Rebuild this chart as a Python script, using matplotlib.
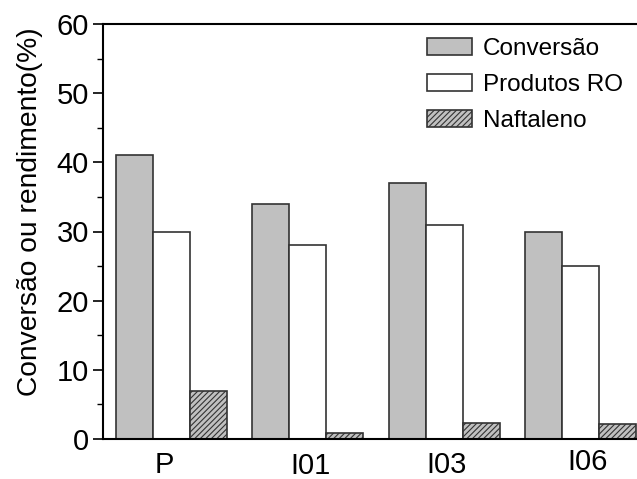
import numpy as np
import matplotlib
matplotlib.use('Agg')
import matplotlib.pyplot as plt
from matplotlib.ticker import MultipleLocator
import matplotlib.transforms as mtransforms

plt.rcParams['font.family'] = ['Liberation Sans', 'DejaVu Sans']
plt.rcParams['hatch.linewidth'] = 0.8

# dados
amostras = ['P', 'I01', 'I03', 'I06']
conversao = [41, 34, 37, 30]
produtos_ro = [30, 28, 31, 25]
naftaleno = [7, 0.9, 2.3, 2.2]

# deslocamentos manuais dos rotulos (pontos)
desloc_x = [-5, 2, 2, 5]
desloc_y = [0, -1, -0.5, 2]

fig = plt.figure(figsize=(6.37, 4.79), dpi=100)
ax = fig.add_axes([103/637, 40/479, 1 - 103/637, 415/479])

x = np.arange(len(amostras))
w = 0.2715
ax.bar(x - w, conversao, w, color='#c0c0c0', edgecolor='#333333', linewidth=1.2, label='Conversão')
ax.bar(x, produtos_ro, w, color='white', edgecolor='#333333', linewidth=1.2, label='Produtos RO')
ax.bar(x + w, naftaleno, w, color='#c0c0c0', edgecolor='#333333', linewidth=1.2, hatch='//////', label='Naftaleno')

ax.set_xlim(-0.503, 3.415)
ax.set_ylim(0, 60)
ax.yaxis.set_major_locator(MultipleLocator(10))
ax.yaxis.set_minor_locator(MultipleLocator(5))
ax.tick_params(axis='y', which='major', direction='out', length=7, width=1.2, labelsize=21, pad=3)
ax.tick_params(axis='y', which='minor', direction='out', length=4, width=1.0)
ax.tick_params(axis='x', bottom=False, labelbottom=False)
ax.spines['right'].set_visible(False)
for s in ['left', 'top', 'bottom']:
    ax.spines[s].set_linewidth(1.5)

ax.set_ylabel('Conversão ou rendimento(%)', fontsize=20.3)
ax.yaxis.set_label_coords(-0.112, 0.547)

trans = mtransforms.blended_transform_factory(ax.transData, ax.transAxes)
for i, nome in enumerate(amostras):
    off = mtransforms.offset_copy(trans, fig=fig, x=desloc_x[i], y=desloc_y[i], units='points')
    ax.text(x[i], -0.062, nome, transform=off, ha='center', va='center', fontsize=21)

leg = ax.legend(loc='upper left', bbox_to_anchor=(427/637, 1 - 38/479), bbox_transform=fig.transFigure,
                frameon=False, fontsize=17.5, handlelength=1.85, handleheight=0.66,
                handletextpad=0.45, labelspacing=0.58, borderpad=0, borderaxespad=0)

fig.savefig('out.png', dpi=100)
